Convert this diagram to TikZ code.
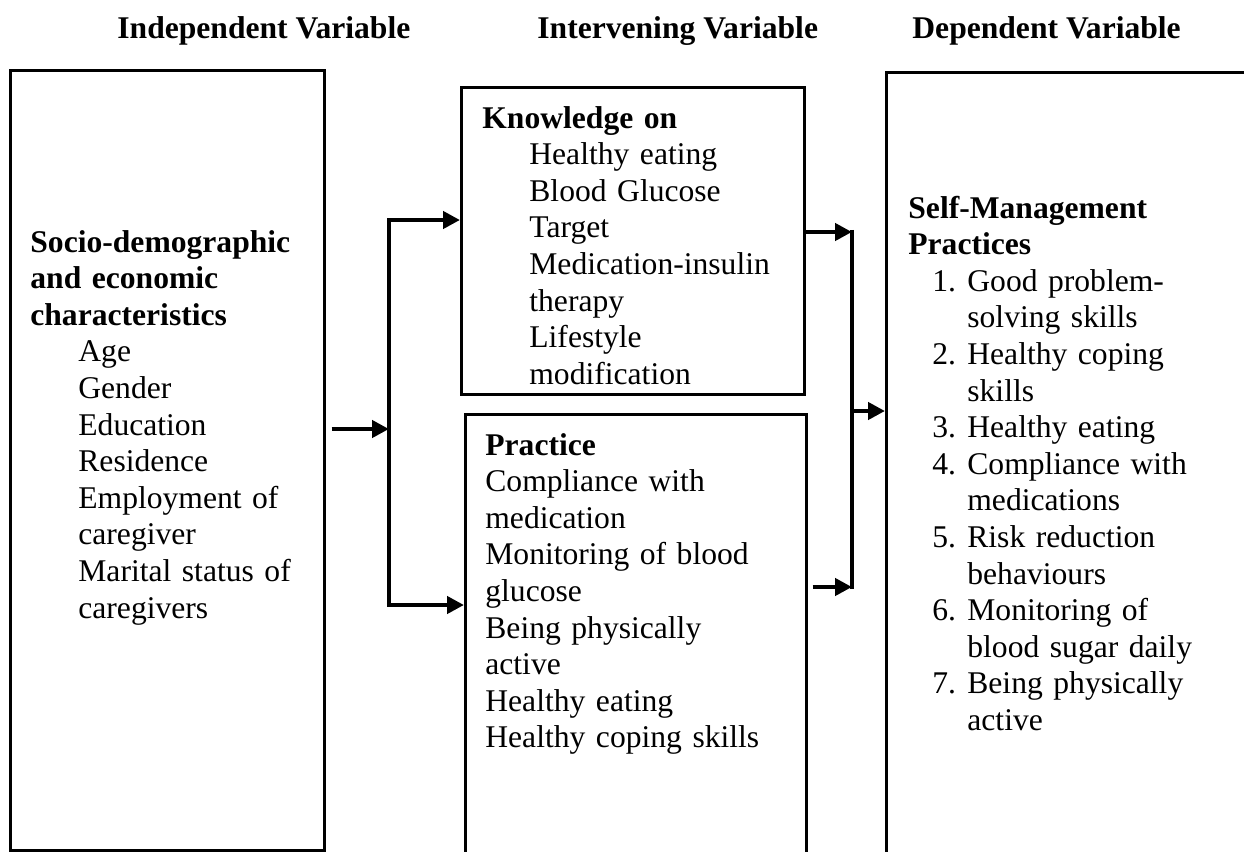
\documentclass[tikz,border=0pt]{standalone}
\usepackage{fontspec}
\setmainfont{Liberation Serif}
\usetikzlibrary{arrows.meta}
\begin{document}
\begin{tikzpicture}[x=0.5pt,y=-0.5pt,
  boxline/.style={draw=black,line width=1.3pt,inner sep=0pt,anchor=north west},
  txt/.style={anchor=base west,inner sep=0pt,align=left,text width=200pt,font=\fontsize{15.8pt}{18.3pt}\selectfont},
  hdr/.style={anchor=base west,inner sep=0pt,font=\fontsize{15.8pt}{18.3pt}\selectfont\bfseries},
  link/.style={line width=2.2pt},
  arr/.style={link,-{Triangle[length=8.5pt,width=8.5pt]}}]
\useasboundingbox (0,0) rectangle (1244,852);
\clip (0,0) rectangle (1244,852);

% headers
\node[hdr] (h1) at (117,38) {Independent Variable};
\node[hdr] (h2) at (537,38) {Intervening Variable};
\node[hdr] (h3) at (912,38) {Dependent Variable};

% boxes
\node[boxline,minimum width=157pt,minimum height=390pt] (indep) at (9,69) {};
\node[boxline,minimum width=171.5pt,minimum height=153.5pt] (know) at (460,86) {};
\node[boxline,minimum width=170.5pt,minimum height=270pt] (prac) at (464,413) {};
\node[boxline,minimum width=210pt,minimum height=440pt] (dep) at (885,71) {};

% texts
\node[txt] (indeptxt) at (30,252) {\textbf{Socio-demographic}\\
\textbf{and economic}\\
\textbf{characteristics}\\
\hspace*{24pt}Age\\
\hspace*{24pt}Gender\\
\hspace*{24pt}Education\\
\hspace*{24pt}Residence\\
\hspace*{24pt}Employment of\\
\hspace*{24pt}caregiver\\
\hspace*{24pt}Marital status of\\
\hspace*{24pt}caregivers};

\node[txt] (knowtxt) at (482,128) {\textbf{Knowledge on}\\
\hspace*{23.5pt}Healthy eating\\
\hspace*{23.5pt}Blood Glucose\\
\hspace*{23.5pt}Target\\
\hspace*{23.5pt}Medication-insulin\\
\hspace*{23.5pt}therapy\\
\hspace*{23.5pt}Lifestyle\\
\hspace*{23.5pt}modification};

\node[txt] (practxt) at (485,455) {\textbf{Practice}\\
Compliance with\\
medication\\
Monitoring of blood\\
glucose\\
Being physically\\
active\\
Healthy eating\\
Healthy coping skills};

\node[txt] (deptxt) at (908,218) {\textbf{Self-Management}\\
\textbf{Practices}\\
\hspace*{12pt}\makebox[17.5pt][l]{1.}Good problem-\\
\hspace*{29.5pt}solving skills\\
\hspace*{12pt}\makebox[17.5pt][l]{2.}Healthy coping\\
\hspace*{29.5pt}skills\\
\hspace*{12pt}\makebox[17.5pt][l]{3.}Healthy eating\\
\hspace*{12pt}\makebox[17.5pt][l]{4.}Compliance with\\
\hspace*{29.5pt}medications\\
\hspace*{12pt}\makebox[17.5pt][l]{5.}Risk reduction\\
\hspace*{29.5pt}behaviours\\
\hspace*{12pt}\makebox[17.5pt][l]{6.}Monitoring of\\
\hspace*{29.5pt}blood sugar daily\\
\hspace*{12pt}\makebox[17.5pt][l]{7.}Being physically\\
\hspace*{29.5pt}active};

% connectors
\coordinate (busTop) at (389,220);
\coordinate (busIn) at (389,429);
\coordinate (busBot) at (389,605);
\coordinate (rTop) at (852,232);
\coordinate (rMid) at (852,411);
\coordinate (rBot) at (852,587);

\draw[arr] ([xshift=3pt]indep.east |- busIn) -- (busIn);
\draw[arr,line join=miter] (busBot) -- (busTop) -- (busTop -| know.west);
\draw[arr] ([xshift=-1.1pt]busBot) -- (busBot -| prac.west);

\draw[arr] (know.east |- rTop) -- (rTop);
\draw[link] ([yshift=1.1pt]rTop) -- ([yshift=-1.1pt]rBot);
\draw[arr] ([xshift=2.5pt]prac.east |- rBot) -- (rBot);
\draw[arr] (rMid) -- (rMid -| dep.west);
\end{tikzpicture}
\end{document}
